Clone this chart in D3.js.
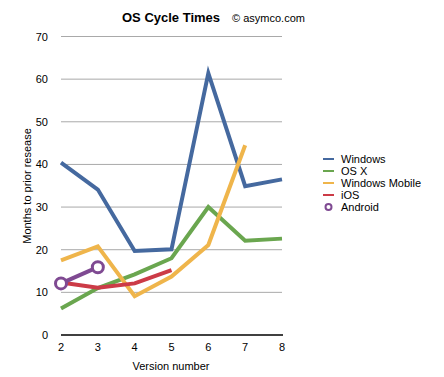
<!DOCTYPE html>
<html><head><meta charset="utf-8">
<script src="https://cdn.jsdelivr.net/npm/d3@7"></script>
<style>body{margin:0;background:#fff;} text{font-family:"Liberation Sans",Arial,Helvetica,sans-serif;}</style>
</head><body>
<svg id="c" width="444" height="377"></svg>
<script>
const versions = [2,3,4,5,6,7,8];
const windows = [40.4,34.1,19.7,20.1,61.4,34.9,36.5];
const osx = [6.2,11,14.2,18,30,22.1,22.6];
const winMobile = [17.5,20.8,9.1,13.7,21.1,44.5];
const ios = [12.3,11.1,12.1,15.2];
const android = [12.1,15.9];
const yTicks = [0,10,20,30,40,50,60,70];
const seriesNames = ["Windows","OS X","Windows Mobile","iOS","Android"];
const seriesColors = ["#45699f","#6aa64f","#efb54b","#cc3b47","#7f4a92"];
const seriesData = [windows, osx, winMobile, ios, android];

const svg = d3.select("#c");
const x = d3.scaleLinear().domain([2,8]).range([61,282]);
const y = d3.scaleLinear().domain([0,70]).range([335,36.5]);

// gridlines
svg.append("g").selectAll("line").data(yTicks.filter(d=>d>0)).join("line")
  .attr("x1",x(2)).attr("x2",x(8)).attr("y1",d=>y(d)).attr("y2",d=>y(d))
  .attr("stroke","#a9a9a9").attr("stroke-width",1);
// baseline
svg.append("line").attr("x1",x(2)).attr("x2",x(8)+1).attr("y1",y(0)).attr("y2",y(0))
  .attr("stroke","#000").attr("stroke-width",1.5);

// y tick labels
svg.append("g").selectAll("text").data(yTicks).join("text")
  .attr("x",48).attr("y",d=>y(d)+4).attr("text-anchor","end")
  .attr("font-size",11).text(d=>d);
// x tick labels
svg.append("g").selectAll("text").data(versions).join("text")
  .attr("x",d=>x(d)).attr("y",351).attr("text-anchor","middle")
  .attr("font-size",11).text(d=>d);

// lines
const line = d3.line().x((d,i)=>x(versions[i])).y(d=>y(d));
seriesData.forEach((s,k)=>{
  svg.append("path").datum(s).attr("d",line).attr("fill","none")
    .attr("stroke",seriesColors[k]).attr("stroke-width",4).attr("stroke-linejoin","miter");
});
// android markers
svg.append("g").selectAll("circle").data(android).join("circle")
  .attr("cx",(d,i)=>x(versions[i])).attr("cy",d=>y(d)).attr("r",5.5)
  .attr("fill","#fff").attr("stroke",seriesColors[4]).attr("stroke-width",3);

// title
const t = svg.append("text").attr("x",122).attr("y",22).attr("font-size",13);
t.append("tspan").attr("font-weight","bold").text("OS Cycle Times");
t.append("tspan").attr("dx",12).attr("font-size",11).text("© asymco.com");

// axis titles
svg.append("text").attr("x",171).attr("y",370).attr("text-anchor","middle")
  .attr("font-size",11).text("Version number");
svg.append("text").attr("transform","translate(31,186) rotate(-90)")
  .attr("text-anchor","middle").attr("font-size",11).text("Months to prior resease");

// legend
const lg = svg.append("g");
seriesNames.forEach((n,k)=>{
  const yy = 159 + k*12;
  if (k===4) {
    lg.append("circle").attr("cx",328.5).attr("cy",yy).attr("r",3)
      .attr("fill","#fff").attr("stroke",seriesColors[k]).attr("stroke-width",2);
  } else {
    lg.append("line").attr("x1",323).attr("x2",334).attr("y1",yy).attr("y2",yy)
      .attr("stroke",seriesColors[k]).attr("stroke-width",2);
  }
  lg.append("text").attr("x",341).attr("y",yy+4).attr("font-size",11).text(n);
});
</script>
</body></html>
